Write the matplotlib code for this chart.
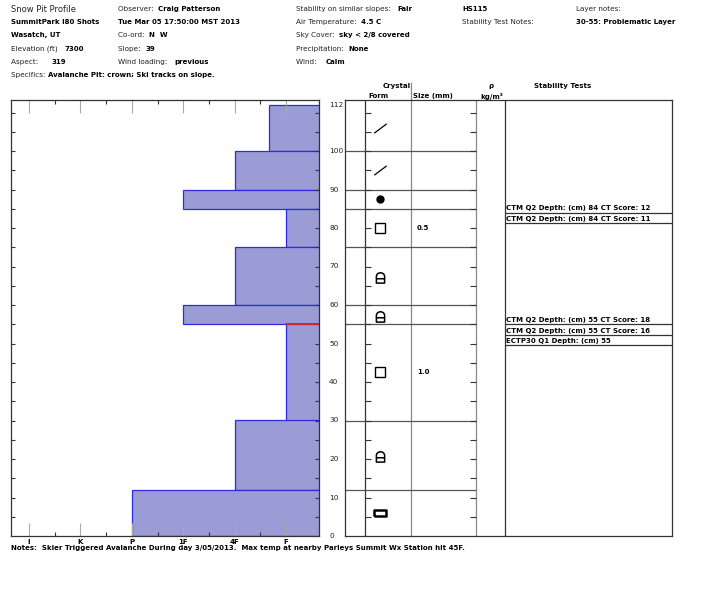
#!/usr/bin/env python3

import matplotlib
matplotlib.use('Agg')
from matplotlib import pyplot as plt
from matplotlib.path import Path
from matplotlib import transforms

# ---- data ----
layer_top = [112, 100, 90, 85, 75, 60, 55, 30, 12]
layer_bottom = [100, 90, 85, 75, 60, 55, 30, 12, 0]
# hand hardness index: F=1, 4F=2, 1F=3, P=4, K=5, I=6 (F+ ~ 1.33)
hardness = [1.33, 2, 3, 1, 2, 3, 1, 2, 4]
crystal_form = ['DF', 'DF', 'RG', 'FC', 'FCxr', 'FCxr', 'FC', 'FCxr', 'MFcr']
crystal_size = ['', '', '', '0.5', '', '', '1.0', '', '']

hardness_labels = ['I', 'K', 'P', '1F', '4F', 'F']
hardness_values = [6, 5, 4, 3, 2, 1]
problem_depth = 55

depth_labels = [0, 10, 20, 30, 40, 50, 60, 70, 80, 90, 100, 112]

test_depths = [84, 84, 55, 55, 55]
test_texts = ['CTM Q2 Depth: (cm) 84 CT Score: 12',
              'CTM Q2 Depth: (cm) 84 CT Score: 11',
              'CTM Q2 Depth: (cm) 55 CT Score: 18',
              'CTM Q2 Depth: (cm) 55 CT Score: 16',
              'ECTP30 Q1 Depth: (cm) 55']

header_rows = [
    [('Snow Pit Profile', ''), ('Observer:  ', 'Craig Patterson'),
     ('Stability on similar slopes:   ', 'Fair'), ('', 'HS115'), ('Layer notes:', '')],
    [('', 'SummitPark I80 Shots'), ('', 'Tue Mar 05 17:50:00 MST 2013'),
     ('Air Temperature:  ', '4.5 C'), ('Stability Test Notes:', ''),
     ('', '30-55: Problematic Layer')],
    [('', 'Wasatch, UT'), ('Co-ord:  ', 'N  W'), ('Sky Cover:  ', 'sky < 2/8 covered')],
    [('Elevation (ft)   ', '7300'), ('Slope:  ', '39'), ('Precipitation:  ', 'None')],
    [('Aspect:      ', '319'), ('Wind loading:   ', 'previous'), ('Wind:    ', 'Calm')],
    [('Specifics: ', 'Avalanche Pit: crown; Ski tracks on slope.')],
]
header_cols = [11, 118, 296, 462, 576]
notes = ('Notes:  Skier Triggered Avalanche During day 3/05/2013.  '
         'Max temp at nearby Parleys Summit Wx Station hit 45F.')

# ---- layout helpers (pixel coords, origin top-left) ----
W, H = 710, 600
PX_PER_CM = 3.85
Y0, Y1 = 536, 100           # pixel rows of 0 cm and top of the plots
ymax = (Y0 - Y1) / PX_PER_CM
DARK = '#333333'
GRAY = '#888888'
FS = 5.0


def box(x0, y0, x1, y1):
    return [x0 / W, 1 - y1 / H, (x1 - x0) / W, (y1 - y0) / H]


fig = plt.figure(figsize=(W / 100, H / 100), dpi=100)
renderer = fig.canvas.get_renderer()

# ---- header ----
for r, row in enumerate(header_rows):
    y = 1 - (9 + r * 13.2) / H
    for c, (label, value) in enumerate(row):
        x = header_cols[c] / W
        size = 6.0 if label == 'Snow Pit Profile' else 5.2
        if label:
            t = fig.text(x, y, label, fontsize=size, va='center', color='#222222')
            x = t.get_window_extent(renderer).x1 / W
        if value:
            fig.text(x, y, value, fontsize=FS, va='center', fontweight='bold')

# ---- hardness profile ----
ax = fig.add_axes(box(11, Y1, 319, Y0))
heights = [t - b for t, b in zip(layer_top, layer_bottom)]
ax.barh(layer_bottom, hardness, height=heights, left=0, align='edge',
        color='#9b9bd6', edgecolor='#2b2be0', linewidth=0.9)
ax.plot([1, 0], [problem_depth, problem_depth], color='#e02020', lw=1.3)
ax.set_xlim(6.35, 0.36)
ax.set_ylim(0, ymax)
ax.set_xticks(hardness_values, hardness_labels)
ax.set_xticks([5.5, 4.5, 3.5, 2.5, 1.5], minor=True)
ax.set_yticks(range(10, 111, 10))
ax.set_yticks(range(5, 111, 10), minor=True)
ax.tick_params(axis='x', which='major', direction='in', length=9.5, width=0.8,
               color='#aaaaaa', top=True, bottom=True, labelsize=FS, pad=2)
ax.tick_params(axis='x', which='minor', direction='in', length=3, width=0.8,
               color=DARK, top=True, bottom=True)
ax.tick_params(axis='y', which='both', direction='in', length=3, width=0.8,
               color=DARK, left=True, right=True, labelleft=False)
for t in ax.get_xticklabels():
    t.set_fontweight('bold')
for s in ax.spines.values():
    s.set_color(DARK)
    s.set_linewidth(0.9)

# ---- table of layers ----
axm = fig.add_axes(box(345, Y1, 672, Y0))
axm.set_xlim(345, 672)
axm.set_ylim(0, ymax)
axm.set_xticks([])
axm.set_yticks([])
for s in axm.spines.values():
    s.set_color(DARK)
    s.set_linewidth(0.9)
axm.axvline(365, color=DARK, lw=0.9)
axm.axvline(476, color=GRAY, lw=0.9)
axm.axvline(505, color=DARK, lw=0.9)
axm.plot([411, 411], [0, ymax + 17 / PX_PER_CM], color=GRAY, lw=0.9, clip_on=False)
axm.hlines(layer_bottom[:-1], 345, 476, color='#555555', lw=0.9)

# tick strip on the crystal columns
axt = fig.add_axes(box(365, Y1, 476, Y0))
axt.patch.set_alpha(0)
axt.set_xlim(0, 1)
axt.set_ylim(0, ymax)
axt.set_xticks([])
axt.set_yticks(range(5, 111, 5))
axt.tick_params(axis='y', direction='in', length=4, width=0.8, color=DARK,
                left=True, right=True, labelleft=False)
for s in axt.spines.values():
    s.set_visible(False)

# depth labels
tr = transforms.blended_transform_factory(fig.transFigure, axm.transData)
for d in depth_labels:
    fig.text(329 / W, d, str(d), transform=tr, fontsize=5.3, va='center',
             ha='left', color='#222222')

# column headings
for txt, x, y in [('Crystal', 397, 86), ('Form', 378, 96), ('Size (mm)', 433, 96),
                  ('ρ', 491, 86), ('kg/m³', 492, 96), ('Stability Tests', 563, 86)]:
    fig.text(x / W, 1 - y / H, txt, fontsize=FS, fontweight='bold',
             ha='center', va='center')

# crystal form symbols
arc = Path.arc(0, 180)
lock_verts = list(arc.vertices * [1, 0.9]) + [(-1, -1.6), (1, -1.6), (1, 0), (-1, -0.55), (1, -0.55)]
lock_codes = list(arc.codes) + [Path.LINETO, Path.LINETO, Path.LINETO, Path.MOVETO, Path.LINETO]
form_style = {
    'DF': dict(marker=Path([(-1, -0.75), (1, 0.75)], [Path.MOVETO, Path.LINETO]),
               ms=9, mec='black', mew=0.9),
    'RG': dict(marker='o', ms=5, mfc='black', mec='black'),
    'FC': dict(marker='s', ms=6.5, mfc='white', mec='black', mew=1.0),
    'FCxr': dict(marker=Path(lock_verts, lock_codes), ms=9.5, mfc='none', mec='black', mew=1.1),
    'MFcr': dict(marker=Path([(-1, -0.55), (1, -0.55), (1, 0.55), (-1, 0.55), (-1, -0.55)]),
                 ms=8, mfc='white', mec='black', mew=1.8),
}
for top, bot, form, size in zip(layer_top, layer_bottom, crystal_form, crystal_size):
    mid = (top + bot) / 2
    axm.plot(380, mid, linestyle='none', **form_style[form])
    if size:
        axm.text(417, mid, size, fontsize=FS, fontweight='bold', va='center')

# stability tests
row_h = 10.6 / PX_PER_CM
prev, k = None, 0
for d, txt in zip(test_depths, test_texts):
    k = k + 1 if d == prev else 0
    prev = d
    y = d - k * row_h
    axm.hlines(y, 505, 672, color=DARK, lw=0.9)
    axm.text(506, y + 0.35, txt, fontsize=FS, fontweight='bold', va='bottom')

# notes
fig.text(11 / W, 1 - 548 / H, notes, fontsize=FS, fontweight='bold', va='center')

plt.savefig('out.png', dpi=100)
